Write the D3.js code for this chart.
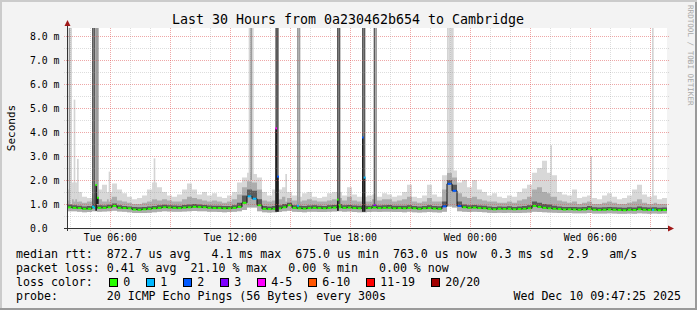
<!DOCTYPE html>
<html>
<head>
<meta charset="utf-8">
<script src="https://cdnjs.cloudflare.com/ajax/libs/d3/7.8.5/d3.min.js"></script>
<style>
  body { margin: 0; background: #f3f3f3; }
  svg text { font-family: "DejaVu Sans Mono", monospace; white-space: pre; }
</style>
</head>
<body>
<svg width="697" height="310"></svg>
<script>
// time window, one sample every 15 minutes
var startTime = new Date(Date.UTC(2025, 11, 9, 3, 50));
var endTime = new Date(Date.UTC(2025, 11, 10, 9, 50));
var stepMin = 15;

// median rtt (ms) and smoke quantiles (ms)
var median = [
  0.86, 0.84, 0.83, 0.80, 0.80, 0.86, 0.84, 0.84, 0.86, 0.92,
  0.84, 0.83, 0.82, 0.77, 0.76, 0.78, 0.80, 0.82, 0.84, 0.86,
  0.85, 0.84, 0.83, 0.85, 0.86, 0.88, 0.87, 0.86, 0.84, 0.83,
  0.83, 0.82, 0.82, 0.84, 0.88, 1.05, 1.32, 1.22, 0.95, 0.80,
  0.79, 0.80, 0.82, 0.86, 0.95, 0.84, 0.82, 0.81, 0.83, 0.84,
  0.83, 0.82, 0.84, 0.85, 0.86, 0.84, 0.85, 0.83, 0.82, 0.82,
  0.83, 0.85, 0.83, 0.84, 0.84, 0.82, 0.83, 0.82, 0.84, 0.82,
  0.80, 0.82, 0.83, 0.81, 0.80, 0.90, 1.84, 1.55, 0.92, 0.86,
  0.84, 0.85, 0.83, 0.82, 0.80, 0.78, 0.80, 0.79, 0.80, 0.78,
  0.79, 0.80, 0.82, 0.92, 0.88, 0.84, 0.82, 0.80, 0.79, 0.77,
  0.78, 0.77, 0.76, 0.77, 0.80, 0.76, 0.75, 0.76, 0.77, 0.76,
  0.75, 0.74, 0.76, 0.75, 0.78, 0.76, 0.75, 0.76, 0.74, 0.75
];
var low = [
  0.70, 0.70, 0.68, 0.66, 0.67, 0.70, 0.68, 0.69, 0.70, 0.72,
  0.69, 0.68, 0.66, 0.62, 0.62, 0.63, 0.64, 0.66, 0.68, 0.70,
  0.69, 0.68, 0.68, 0.69, 0.70, 0.71, 0.70, 0.70, 0.68, 0.68,
  0.67, 0.66, 0.67, 0.68, 0.70, 0.75, 0.85, 0.85, 0.70, 0.66,
  0.65, 0.66, 0.67, 0.70, 0.72, 0.68, 0.67, 0.66, 0.68, 0.68,
  0.67, 0.67, 0.68, 0.69, 0.70, 0.68, 0.69, 0.67, 0.66, 0.66,
  0.67, 0.68, 0.67, 0.68, 0.68, 0.67, 0.67, 0.66, 0.68, 0.66,
  0.65, 0.66, 0.67, 0.66, 0.65, 0.68, 0.90, 0.85, 0.70, 0.68,
  0.67, 0.68, 0.67, 0.66, 0.64, 0.63, 0.64, 0.63, 0.64, 0.62,
  0.63, 0.64, 0.65, 0.68, 0.67, 0.66, 0.65, 0.64, 0.63, 0.62,
  0.62, 0.61, 0.61, 0.61, 0.63, 0.60, 0.60, 0.60, 0.61, 0.60,
  0.59, 0.59, 0.60, 0.59, 0.61, 0.60, 0.59, 0.60, 0.59, 0.60
];
var q75 = [
  0.98, 0.95, 0.93, 0.90, 0.92, 1.00, 0.95, 0.94, 0.97, 1.02,
  0.95, 0.92, 0.90, 0.87, 0.86, 0.88, 0.90, 0.92, 0.95, 0.97,
  0.95, 0.94, 0.93, 0.96, 0.98, 1.00, 0.98, 0.96, 0.94, 0.93,
  0.93, 0.92, 0.92, 0.95, 1.05, 1.35, 1.60, 1.55, 1.20, 0.92,
  0.90, 0.92, 0.95, 1.00, 1.05, 0.95, 0.93, 0.92, 0.94, 0.95,
  0.93, 0.92, 0.95, 0.96, 1.00, 0.95, 0.96, 0.94, 0.93, 0.93,
  0.93, 0.97, 0.94, 0.95, 0.96, 0.93, 0.93, 0.93, 0.95, 0.92,
  0.90, 0.92, 0.95, 0.92, 0.91, 1.10, 2.00, 1.80, 1.10, 0.98,
  0.95, 0.96, 0.94, 0.93, 0.90, 0.88, 0.90, 0.89, 0.91, 0.88,
  0.90, 0.92, 0.95, 1.10, 1.05, 1.00, 0.98, 0.93, 0.90, 0.88,
  0.88, 0.87, 0.86, 0.87, 0.92, 0.86, 0.85, 0.86, 0.87, 0.86,
  0.85, 0.84, 0.86, 0.85, 0.90, 0.86, 0.85, 0.86, 0.84, 0.85
];
var q90 = [
  1.15, 1.20, 1.10, 1.05, 1.10, 1.20, 1.20, 1.10, 1.20, 1.30,
  1.15, 1.10, 1.05, 1.00, 1.00, 1.05, 1.10, 1.20, 1.15, 1.20,
  1.15, 1.10, 1.10, 1.20, 1.30, 1.25, 1.20, 1.15, 1.10, 1.15,
  1.10, 1.05, 1.10, 1.20, 1.40, 1.70, 1.95, 1.90, 1.60, 1.15,
  1.10, 1.15, 1.20, 1.30, 1.25, 1.15, 1.10, 1.15, 1.20, 1.15,
  1.10, 1.10, 1.15, 1.20, 1.25, 1.15, 1.30, 1.15, 1.10, 1.10,
  1.10, 1.20, 1.15, 1.20, 1.20, 1.10, 1.15, 1.20, 1.30, 1.10,
  1.05, 1.10, 1.25, 1.10, 1.10, 1.60, 2.30, 2.10, 1.45, 1.30,
  1.25, 1.30, 1.20, 1.15, 1.10, 1.10, 1.05, 1.05, 1.10, 1.05,
  1.15, 1.20, 1.30, 1.60, 1.70, 1.50, 1.45, 1.30, 1.15, 1.10,
  1.05, 1.10, 1.00, 1.05, 1.10, 1.00, 1.00, 1.05, 1.10, 1.05,
  1.00, 1.00, 1.05, 1.10, 1.20, 1.05, 1.00, 1.05, 1.00, 1.00
];
var high = [
  1.60, 1.90, 1.50, 1.30, 1.25, 1.40, 1.60, 1.80, 1.50, 1.85,
  1.60, 1.45, 1.30, 1.20, 1.25, 1.35, 1.60, 1.90, 1.70, 1.50,
  1.35, 1.30, 1.40, 1.60, 1.85, 1.60, 1.40, 1.50, 1.35, 1.45,
  1.30, 1.25, 1.35, 1.50, 1.90, 2.10, 2.30, 2.25, 2.10, 1.50,
  1.35, 1.60, 1.60, 1.70, 1.50, 1.35, 1.30, 1.45, 1.50, 1.30,
  1.25, 1.30, 1.45, 1.50, 1.50, 1.35, 1.70, 1.40, 1.30, 1.30,
  1.35, 1.40, 1.30, 1.45, 1.40, 1.30, 1.35, 1.50, 1.80, 1.30,
  1.25, 1.35, 1.80, 1.40, 1.30, 2.20, 2.50, 2.40, 1.90, 2.00,
  1.70, 2.00, 1.60, 1.50, 1.35, 1.45, 1.30, 1.25, 1.35, 1.30,
  1.50, 1.65, 1.80, 2.30, 2.50, 2.80, 2.30, 2.20, 1.50, 1.40,
  1.35, 1.60, 1.25, 1.30, 1.35, 1.25, 1.20, 1.35, 1.45, 1.30,
  1.20, 1.25, 1.35, 1.60, 1.80, 1.40, 1.30, 1.35, 1.20, 1.25
];
// samples with lost pings
var lossIdx = [36, 37, 75, 76, 77, 78];
var lossCnt = [1, 1, 2, 2, 2, 2];

// short bursts (5 minute steps): minutes after start, top of smoke, bottom of the burst band,
// shade level of the band, median during the burst and its loss
var spikeAt    = [5, 10, 20, 30, 75, 80, 85, 90, 125, 260, 545, 550, 555, 625, 630, 655, 690, 695, 810, 815, 885, 890, 920, 925, 1140, 1145, 1150, 1155, 1450, 1570, 1755];
var spikeTop   = [9, 9, 5.35, 2.88, 9, 9, 9, 9, 2.35, 2.9, 9, 9, 9, 9, 9, 2.25, 9, 9, 9, 9, 9, 9, 9, 9, 9, 9, 9, 9, 3.45, 3.0, 9];
var spikeBase  = [1.0, 1.0, 1.1, 1.1, 0.95, 0.95, 0.72, 1.0, 1.1, 1.2, 2.0, 2.0, 2.0, 0.68, 0.68, 1.1, 1.0, 1.0, 0.72, 1.0, 0.68, 0.68, 1.0, 1.0, 2.3, 2.3, 2.3, 2.3, 1.3, 1.1, 1.0];
var spikeShade = [2, 1, 1, 1, 3, 3, 2, 2, 1, 1, 1, 2, 1, 3, 3, 1, 2, 2, 3, 3, 3, 3, 3, 2, 1, 1, 1, 1, 1, 1, 1];
var spikeMed   = [null, null, null, null, 0.89, 0.84, 1.79, 1.26, null, null, null, null, null, 4.15, 2.14, null, 0.93, null, 1.18, 0.96, 3.77, 2.10, 0.96, null, null, null, null, null, null, null, 0.76];
var spikeLoss  = [0, 0, 0, 0, 1, 1, 0, 0, 0, 0, 0, 0, 0, 4, 2, 0, 1, 0, 0, 0, 2, 1, 3, 0, 0, 0, 0, 0, 0, 0, 1];

var lossLabels = ['0', '1', '2', '3', '4-5', '6-10', '11-19', '20/20'];
var lossColors = ['#26ff00', '#00b8ff', '#0059ff', '#7e00ff', '#ff00ff', '#ff5500', '#ff0000', '#a10000'];

var yTicks = [0, 1, 2, 3, 4, 5, 6, 7, 8];
var titleText = 'Last 30 Hours from 0a230462b654 to Cambridge';
var legendLines = [
  'median rtt:  872.7 us avg   4.1 ms max  675.0 us min  763.0 us now  0.3 ms sd  2.9   am/s',
  'packet loss: 0.41 % avg  21.10 % max   0.00 % min   0.00 % now',
  'loss color:',
  'probe:       20 ICMP Echo Pings (56 Bytes) every 300s'
];
var stampText = 'Wed Dec 10 09:47:25 2025';

var svg = d3.select('svg');
var W = 697, H = 310;
var plot = { l: 67, r: 667, t: 28, b: 228 };

var x = d3.scaleUtc().domain([startTime, endTime]).range([plot.l, plot.r]);
var y = d3.scaleLinear().domain([0, 200 / 24]).range([plot.b, plot.t]);

function lossBucket(n) {
  if (n <= 3) return n;
  if (n <= 5) return 4;
  if (n <= 10) return 5;
  if (n <= 19) return 6;
  return 7;
}

// background and 3d frame
svg.append('rect').attr('width', W).attr('height', H).attr('fill', '#f3f3f3');
svg.append('path').attr('d', 'M0,0H697V2H2V310H0Z').attr('fill', '#cbcbcb');
svg.append('path').attr('d', 'M697,0V310H0V308H695V2H697Z').attr('fill', '#9a9a9a');
svg.append('rect').attr('x', plot.l).attr('y', plot.t)
  .attr('width', plot.r - plot.l).attr('height', plot.b - plot.t).attr('fill', '#fff');

svg.append('defs').append('clipPath').attr('id', 'plotClip')
  .append('rect').attr('x', plot.l).attr('y', plot.t)
  .attr('width', plot.r - plot.l).attr('height', plot.b - plot.t);

var plotG = svg.append('g').attr('clip-path', 'url(#plotClip)');

// rows for the step areas
var rows = median.map(function(m, i) {
  var li = lossIdx.indexOf(i);
  return {
    t: d3.utcMinute.offset(startTime, i * stepMin),
    t1: d3.utcMinute.offset(startTime, (i + 1) * stepMin),
    med: m, lo: low[i], q75: q75[i], q90: q90[i], hi: high[i],
    loss: li < 0 ? 0 : lossCnt[li]
  };
});
var stepRows = rows.concat([Object.assign({}, rows[rows.length - 1], { t: rows[rows.length - 1].t1 })]);

function band(lo, hi) {
  return d3.area().curve(d3.curveStepAfter)
    .x(function(d) { return x(d.t); })
    .y0(function(d) { return y(d[lo]); })
    .y1(function(d) { return y(d[hi]); });
}

plotG.append('path').datum(stepRows).attr('d', band('lo', 'hi')).attr('fill', '#d8d8d8');
plotG.append('path').datum(stepRows).attr('d', band('lo', 'q90')).attr('fill', '#adadad');
plotG.append('path').datum(stepRows).attr('d', band('med', 'q75')).attr('fill', '#5a5a5a');

// median: black step line with loss coloured segments
plotG.append('path').datum(stepRows)
  .attr('d', d3.line().curve(d3.curveStepAfter)
    .x(function(d) { return x(d.t); })
    .y(function(d) { return y(d.med); }))
  .attr('fill', 'none').attr('stroke', '#111').attr('stroke-width', 1);

plotG.selectAll('.med').data(rows).enter().append('line')
  .attr('class', 'med')
  .attr('x1', function(d) { return x(d.t) + 0.6; })
  .attr('x2', function(d) { return x(d.t1) - 0.6; })
  .attr('y1', function(d) { return y(d.med); })
  .attr('y2', function(d) { return y(d.med); })
  .attr('stroke', function(d) { return lossColors[lossBucket(d.loss)]; })
  .attr('stroke-width', 2);

// bursts
var shadeColors = ['', '#d4d4d4', '#9c9c9c', '#5a5a5a'];
var spikes = spikeAt.map(function(m, i) {
  return {
    t0: d3.utcMinute.offset(startTime, m),
    t1: d3.utcMinute.offset(startTime, m + 5),
    top: spikeTop[i], base: spikeBase[i], shade: spikeShade[i],
    med: spikeMed[i], loss: spikeLoss[i]
  };
});
spikes.forEach(function(s) {
  var x0 = x(s.t0), x1 = x(s.t1);
  var yt = y(Math.min(s.top, 9));
  plotG.append('rect').attr('x', x0).attr('width', x1 - x0)
    .attr('y', yt).attr('height', y(s.base) - yt)
    .attr('fill', shadeColors[s.shade]);
  if (s.med !== null) {
    if (s.med > s.base) {
      plotG.append('rect').attr('x', x0).attr('width', x1 - x0)
        .attr('y', y(s.med)).attr('height', y(s.base) - y(s.med))
        .attr('fill', '#1e1e1e');
    }
    plotG.append('rect').attr('x', x0).attr('width', Math.max(2, x1 - x0))
      .attr('y', y(s.med) - 1).attr('height', 2)
      .attr('fill', lossColors[lossBucket(s.loss)]);
  }
});

// grid on top
var gridG = svg.append('g');
var minorY = d3.range(0.5, 8.5, 1);
gridG.selectAll('.hmin').data(minorY).enter().append('line')
  .attr('x1', plot.l - 3).attr('x2', plot.r + 2)
  .attr('y1', function(d) { return Math.round(y(d)) + 0.5; })
  .attr('y2', function(d) { return Math.round(y(d)) + 0.5; })
  .attr('stroke', 'rgba(143,143,143,0.30)').attr('stroke-dasharray', '1,1');
gridG.selectAll('.hmaj').data(yTicks.slice(1)).enter().append('line')
  .attr('x1', plot.l - 3).attr('x2', plot.r + 2)
  .attr('y1', function(d) { return Math.round(y(d)) + 0.5; })
  .attr('y2', function(d) { return Math.round(y(d)) + 0.5; })
  .attr('stroke', 'rgba(222,80,80,0.5)').attr('stroke-dasharray', '1,1');

var hours = d3.utcHour.range(startTime, endTime);
gridG.selectAll('.vgrid').data(hours).enter().append('line')
  .attr('x1', function(d) { return Math.round(x(d)) + 0.5; })
  .attr('x2', function(d) { return Math.round(x(d)) + 0.5; })
  .attr('y1', plot.t).attr('y2', plot.b + 3)
  .attr('stroke', function(d) {
    return d.getUTCHours() % 3 === 0 ? 'rgba(222,80,80,0.5)' : 'rgba(143,143,143,0.30)';
  })
  .attr('stroke-dasharray', '1,1');

// axes with arrows
var axisCol = '#333';
svg.append('line').attr('x1', plot.l - 3).attr('x2', plot.r + 2)
  .attr('y1', plot.b + 0.5).attr('y2', plot.b + 0.5).attr('stroke', axisCol);
svg.append('line').attr('x1', plot.l + 0.5).attr('x2', plot.l + 0.5)
  .attr('y1', plot.b + 3).attr('y2', plot.t - 2).attr('stroke', axisCol);
svg.append('path').attr('d', 'M' + (plot.r + 1) + ',' + (plot.b - 2.5) + 'L' + (plot.r + 7) + ',' + (plot.b + 0.5) + 'L' + (plot.r + 1) + ',' + (plot.b + 3.5) + 'Z')
  .attr('fill', '#a01818');
svg.append('path').attr('d', 'M' + (plot.l - 2.5) + ',' + (plot.t - 2) + 'L' + (plot.l + 0.5) + ',' + (plot.t - 8) + 'L' + (plot.l + 3.5) + ',' + (plot.t - 2) + 'Z')
  .attr('fill', '#a01818');

// tick labels
var fmt = d3.utcFormat('%a %H:%M');
svg.selectAll('.xlab').data(d3.utcHour.every(6).range(startTime, endTime)).enter().append('text')
  .attr('x', function(d) { return x(d); }).attr('y', 241)
  .attr('text-anchor', 'middle').attr('font-size', '9.8px').attr('fill', '#000')
  .text(function(d) { return fmt(d); });

svg.selectAll('.ylab').data(yTicks).enter().append('text')
  .attr('x', 30).attr('y', function(d) { return y(d) + 3.5; })
  .attr('font-size', '9.8px').attr('fill', '#000')
  .text(function(d) { return d === 0 ? '0.0' : d.toFixed(1) + ' m'; });

// titles
svg.append('text').attr('x', 348).attr('y', 24).attr('text-anchor', 'middle')
  .attr('font-size', '13.3px').attr('fill', '#000').text(titleText);
svg.append('text').attr('transform', 'translate(14.5,128) rotate(-90)')
  .attr('text-anchor', 'middle').attr('font-size', '11px').attr('fill', '#000').text('Seconds');
svg.append('text').attr('transform', 'translate(687.5,5) rotate(90)')
  .attr('font-size', '7.6px').attr('fill', '#a8a8a8').text('RRDTOOL / TOBI OETIKER');

// legend
var legendY = [258, 272, 286, 300];
legendLines.forEach(function(s, i) {
  svg.append('text').attr('x', 16).attr('y', legendY[i])
    .attr('xml:space', 'preserve').attr('font-size', '11.6px').attr('fill', '#000').text(s);
});
svg.append('text').attr('x', 681).attr('y', legendY[3]).attr('text-anchor', 'end')
  .attr('font-size', '11.6px').attr('fill', '#000').text(stampText);

var bx = 108.7;
lossLabels.forEach(function(lab, i) {
  svg.append('rect').attr('x', Math.round(bx) + 0.5).attr('y', 278.5)
    .attr('width', 8).attr('height', 8)
    .attr('fill', lossColors[i]).attr('stroke', '#000');
  svg.append('text').attr('x', bx + 14.5).attr('y', legendY[2])
    .attr('font-size', '11.6px').attr('fill', '#000').text(lab);
  bx += 30 + 7 * lab.length;
});
</script>
</body>
</html>
